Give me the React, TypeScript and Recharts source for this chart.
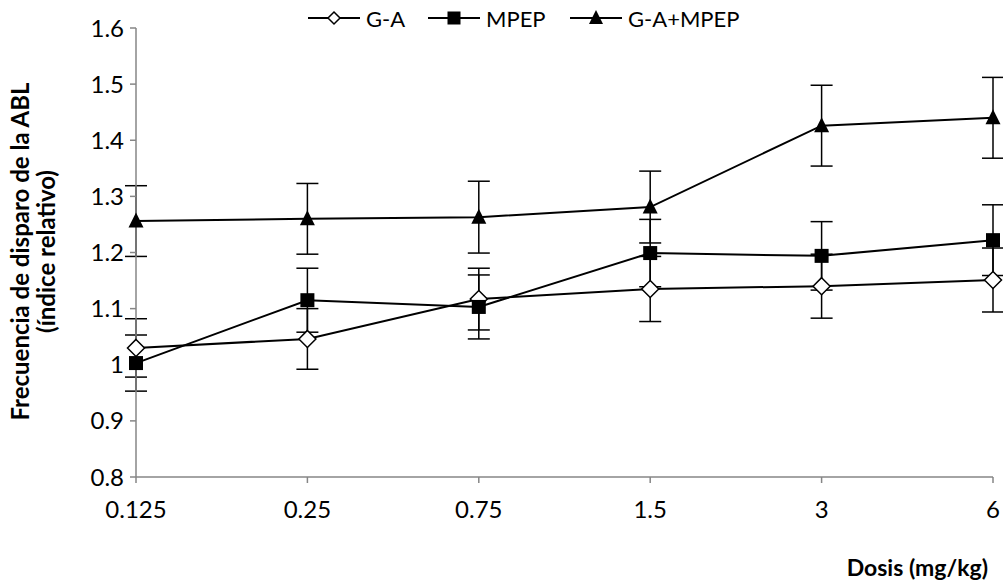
import { LineChart, Line, XAxis, YAxis, ErrorBar, Label } from 'recharts';

const doses = ['0.125', '0.25', '0.75', '1.5', '3', '6'];
const gaValues = [1.03, 1.046, 1.117, 1.135, 1.14, 1.151];
const gaErrors = [0.052, 0.054, 0.055, 0.058, 0.057, 0.057];
const mpepValues = [1.003, 1.115, 1.103, 1.199, 1.194, 1.222];
const mpepErrors = [0.05, 0.057, 0.057, 0.06, 0.061, 0.063];
const comboValues = [1.256, 1.26, 1.263, 1.281, 1.426, 1.44];
const comboErrors = [0.063, 0.063, 0.064, 0.064, 0.072, 0.072];
const yTicks = [0.8, 0.9, 1, 1.1, 1.2, 1.3, 1.4, 1.5, 1.6];

const data = doses.map((dose, i) => ({
  dose,
  ga: gaValues[i],
  gaErr: gaErrors[i],
  mpep: mpepValues[i],
  mpepErr: mpepErrors[i],
  combo: comboValues[i],
  comboErr: comboErrors[i],
}));

const FONT = 'Lato, "Open Sans", sans-serif';
const AXIS = '#868686';

// half-size of each marker; `r` is taken by recharts' own dot props
type DotProps = { cx?: number; cy?: number; index?: number; half?: number };

const Diamond = ({ cx = 0, cy = 0, index, half = 8.5 }: DotProps) => (
  <path key={`d-${index}`} d={`M${cx},${cy - half}L${cx + half},${cy}L${cx},${cy + half}L${cx - half},${cy}Z`} fill="#fff" stroke="#000" strokeWidth={1.5} />
);
const Square = ({ cx = 0, cy = 0, index, half = 7 }: DotProps) => (
  <rect key={`s-${index}`} x={cx - half} y={cy - half} width={2 * half} height={2 * half} fill="#000" />
);
const Triangle = ({ cx = 0, cy = 0, index, half = 7.5 }: DotProps) => (
  <path key={`t-${index}`} d={`M${cx},${cy - half - 1}L${cx + half},${cy + half - 1}L${cx - half},${cy + half - 1}Z`} fill="#000" />
);

const legendItems = [
  { name: 'G-A', Marker: Diamond, left: 308, half: 6 },
  { name: 'MPEP', Marker: Square, left: 428, half: 6.5 },
  { name: 'G-A+MPEP', Marker: Triangle, left: 570, half: 7 },
];

// legend sits above the plot, outside the chart's layout
const ChartLegend = () => (
  <>
    {legendItems.map(({ name, Marker, left, half }) => (
      <div key={name} style={{ position: 'absolute', left, top: 4, height: 28, display: 'flex', alignItems: 'center', fontFamily: FONT, fontSize: 22 }}>
        <svg width={52} height={20}>
          <line x1={0} y1={10} x2={52} y2={10} stroke="#000" strokeWidth={2} />
          <Marker cx={26} cy={10} half={half} />
        </svg>
        <span style={{ marginLeft: 6 }}>{name}</span>
      </div>
    ))}
  </>
);

const YTitle = ({ viewBox }: any) => {
  const cy = viewBox.y + viewBox.height / 2 - 1;
  return (
    <text transform={`rotate(-90, 34, ${cy})`} x={34} y={cy} textAnchor="middle" fontFamily={FONT} fontSize={24} fontWeight="bold" fill="#000">
      <tspan x={34} dy={-5}>Frecuencia de disparo de la ABL</tspan>
      <tspan x={34} dy={26}>(índice relativo)</tspan>
    </text>
  );
};

const XTitle = () => (
  <text x={988} y={576} textAnchor="end" fontFamily={FONT} fontSize={23} fontWeight="bold" fill="#000">
    Dosis (mg/kg)
  </text>
);

export default function App() {
  return (
    <div style={{ position: 'absolute', left: 0, top: 0, width: 1003, height: 588, background: '#fff' }}>
      <LineChart width={1003} height={588} data={data} margin={{ top: 28, right: 10, bottom: 81, left: 76 }}>
        <XAxis
          dataKey="dose"
          stroke={AXIS}
          strokeWidth={1.5}
          tickSize={6}
          tickMargin={18}
          tick={{ fill: '#000', fontFamily: FONT, fontSize: 24 }}
          height={30}
          padding={{ left: 0, right: 0 }}
        >
          <Label content={XTitle} />
        </XAxis>
        <YAxis
          width={60}
          domain={[0.8, 1.6]}
          ticks={yTicks}
          tickFormatter={(v: number) => String(+v.toFixed(1))}
          stroke={AXIS}
          strokeWidth={1.5}
          tickSize={6}
          tickMargin={6}
          tick={{ fill: '#000', fontFamily: FONT, fontSize: 24 }}
        >
          <Label content={YTitle} />
        </YAxis>
        <Line dataKey="ga" name="G-A" stroke="#000" strokeWidth={2} dot={(p: any) => <Diamond cx={p.cx} cy={p.cy} index={p.index} key={`ga-${p.index}`} />} activeDot={false} isAnimationActive={false}>
          <ErrorBar dataKey="gaErr" width={11} stroke="#000" strokeWidth={1.5} direction="y" />
        </Line>
        <Line dataKey="mpep" name="MPEP" stroke="#000" strokeWidth={2} dot={(p: any) => <Square cx={p.cx} cy={p.cy} index={p.index} key={`mp-${p.index}`} />} activeDot={false} isAnimationActive={false}>
          <ErrorBar dataKey="mpepErr" width={11} stroke="#000" strokeWidth={1.5} direction="y" />
        </Line>
        <Line dataKey="combo" name="G-A+MPEP" stroke="#000" strokeWidth={2} dot={(p: any) => <Triangle cx={p.cx} cy={p.cy} index={p.index} key={`co-${p.index}`} />} activeDot={false} isAnimationActive={false}>
          <ErrorBar dataKey="comboErr" width={11} stroke="#000" strokeWidth={1.5} direction="y" />
        </Line>
      </LineChart>
      <ChartLegend />
    </div>
  );
}
